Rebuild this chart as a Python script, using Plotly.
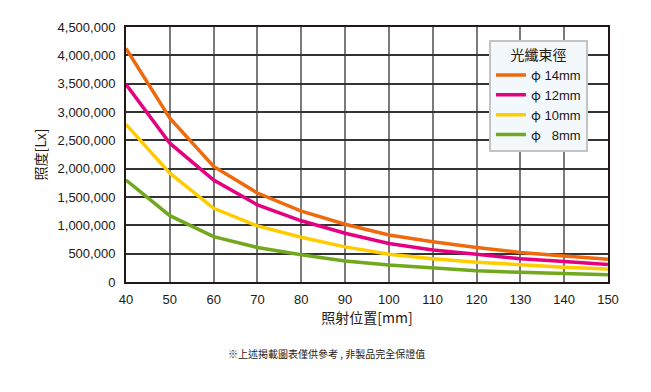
import plotly.graph_objects as go

positions = [40, 50, 60, 70, 80, 90, 100, 110, 120, 130, 140, 150]
phi14 = [4120000, 2890000, 2040000, 1570000, 1250000, 1020000, 830000, 710000, 610000, 520000, 460000, 400000]
phi12 = [3490000, 2450000, 1800000, 1360000, 1080000, 860000, 680000, 565000, 490000, 410000, 360000, 310000]
phi10 = [2780000, 1920000, 1300000, 990000, 790000, 620000, 490000, 410000, 350000, 300000, 260000, 230000]
phi8 = [1800000, 1170000, 800000, 610000, 480000, 370000, 300000, 250000, 200000, 170000, 150000, 130000]

PHI = "<span style='font-family:Noto Sans CJK TC'>φ</span>"
names = [PHI + " 14mm", PHI + " 12mm", PHI + " 10mm", PHI + " \u20078mm"]
colors = ["#EE6A0C", "#E4007F", "#FFCC00", "#72A81E"]
series = [phi14, phi12, phi10, phi8]

x_ticks = list(range(40, 151, 10))
y_ticks = list(range(0, 4500001, 500000))

fig = go.Figure()
for name, color, vals in zip(names, colors, series):
    fig.add_trace(go.Scatter(x=positions, y=vals, name=name, mode="lines",
                             line=dict(color=color, width=3.5)))

# page has an 8px body margin; compensate so the plot lands where the reference has it
fig.update_layout(
    width=643, height=384,
    margin=dict(l=118, r=43, t=19, b=110),
    paper_bgcolor="white", plot_bgcolor="white",
    font=dict(family="Liberation Sans, Arial, sans-serif", size=13, color="#231815"),
    legend=dict(
        x=0.753, y=0.95, xanchor="left", yanchor="top",
        bgcolor="#F3F8FD", bordercolor="#C4C4C4", borderwidth=2,
        font=dict(family="Liberation Sans, sans-serif", size=13),
        title=dict(text="光纖束徑", side="top center",
                   font=dict(family="Noto Sans CJK TC, sans-serif", size=14)),
        tracegroupgap=0, itemwidth=30,
    ),
    showlegend=True,
)

fig.update_xaxes(
    range=[40, 150], tickvals=x_ticks, ticktext=[str(v) for v in x_ticks],
    showgrid=True, gridcolor="#7A7A7A", gridwidth=1.5,
    showline=True, linecolor="#231815", linewidth=2, mirror=True,
    zeroline=False, ticks="", ticklabelstandoff=4,
    title=dict(text="照射位置[mm]", standoff=8,
               font=dict(family="Noto Sans CJK TC, sans-serif", size=14)),
)
fig.update_yaxes(
    range=[0, 4500000], tickvals=y_ticks, tickformat=",d",
    showgrid=True, gridcolor="#333333", gridwidth=1.5,
    showline=True, linecolor="#231815", linewidth=2, mirror=True,
    zeroline=False, ticks="", ticklabelstandoff=6,
    title=dict(text="照度[Lx]", standoff=8,
               font=dict(family="Noto Sans CJK TC, sans-serif", size=14)),
)

fig.add_annotation(
    text="※上述掲載圖表僅供參考 , 非製品完全保證值",
    xref="paper", yref="paper", x=0.416, y=-0.28, xanchor="center", yanchor="middle",
    showarrow=False, font=dict(family="Noto Sans CJK TC, sans-serif", size=10, color="#231815"),
)

fig.write_html("out.html")
